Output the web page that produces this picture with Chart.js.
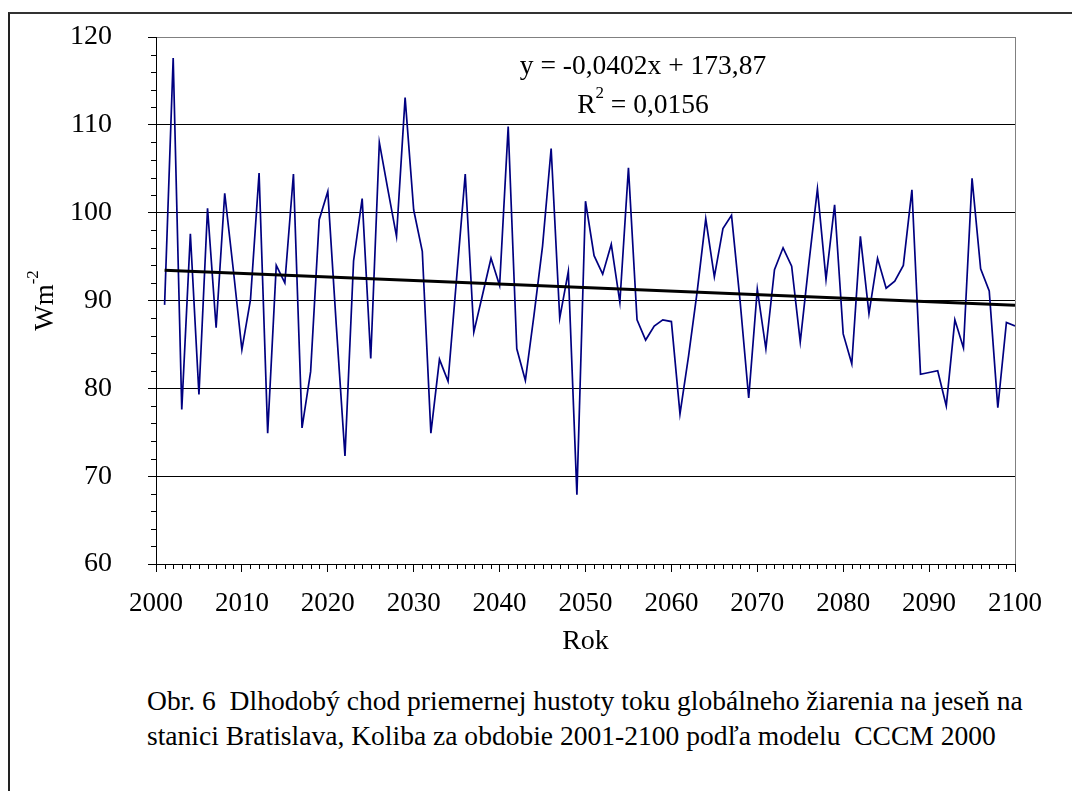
<!DOCTYPE html>
<html>
<head>
<meta charset="utf-8">
<script src="https://cdn.jsdelivr.net/npm/chart.js@4.4.1/dist/chart.umd.min.js"></script>
<style>
  html, body { margin: 0; padding: 0; background: #fff; }
  body { width: 1072px; height: 791px; position: relative; overflow: hidden; }
  #frame {
    position: absolute; left: 8px; top: 12px; width: 1100px; height: 820px;
    border-left: 2px solid #222; border-top: 2px solid #333;
  }
  #chart { position: absolute; left: 0; top: 0; }
  #caption {
    position: absolute; left: 147px; top: 684px;
    font-family: "Liberation Serif", "Times New Roman", serif;
    font-size: 27px; line-height: 35px; color: #000; white-space: nowrap;
    transform: scaleX(1.02); transform-origin: 0 0;
  }
</style>
</head>
<body>
<div id="frame"></div>
<canvas id="chart" width="1072" height="660"></canvas>
<div id="caption">Obr. 6&nbsp; Dlhodobý chod priemernej hustoty toku globálneho žiarenia na jeseň na<br>stanici Bratislava, Koliba za obdobie 2001-2100 podľa modelu&nbsp; CCCM 2000</div>
<script>
// years of the model run
const years = [
  2001, 2002, 2003, 2004, 2005, 2006, 2007, 2008, 2009, 2010,
  2011, 2012, 2013, 2014, 2015, 2016, 2017, 2018, 2019, 2020,
  2021, 2022, 2023, 2024, 2025, 2026, 2027, 2028, 2029, 2030,
  2031, 2032, 2033, 2034, 2035, 2036, 2037, 2038, 2039, 2040,
  2041, 2042, 2043, 2044, 2045, 2046, 2047, 2048, 2049, 2050,
  2051, 2052, 2053, 2054, 2055, 2056, 2057, 2058, 2059, 2060,
  2061, 2062, 2063, 2064, 2065, 2066, 2067, 2068, 2069, 2070,
  2071, 2072, 2073, 2074, 2075, 2076, 2077, 2078, 2079, 2080,
  2081, 2082, 2083, 2084, 2085, 2086, 2087, 2088, 2089, 2090,
  2091, 2092, 2093, 2094, 2095, 2096, 2097, 2098, 2099, 2100
];

// autumn mean global radiation flux density [W/m2]
const radiation = [
  89.5, 117.6, 77.6, 97.6, 79.3, 100.5, 86.9, 102.2, 93.5, 84.4,
  90.1, 104.5, 74.9, 94.0, 92.0, 104.4, 75.5, 81.9, 99.2, 102.4,
  87.0, 72.3, 94.5, 101.6, 83.4, 108.0, 102.6, 97.3, 113.1, 100.3,
  95.6, 74.9, 83.3, 80.8, 92.6, 104.4, 86.4, 90.6, 94.8, 91.7,
  109.8, 84.5, 80.9, 88.3, 96.2, 107.3, 88.0, 93.3, 67.9, 101.3,
  95.1, 93.0, 96.4, 89.8, 105.1, 87.8, 85.5, 87.1, 87.8, 87.6,
  77.1, 83.7, 91.0, 99.3, 92.7, 98.2, 99.7, 89.9, 78.9, 91.3,
  84.5, 93.5, 96.0, 93.9, 85.3, 94.2, 102.7, 92.4, 100.9, 86.2,
  82.8, 97.3, 88.5, 94.8, 91.4, 92.2, 94.0, 102.6, 81.6, 81.8,
  82.0, 78.0, 87.8, 84.6, 103.9, 93.6, 91.1, 77.8, 87.5, 87.1
];

// linear trend end points (y = -0,0402x + 173,87)
const trendYears = [2001, 2100];
const trendValues = [93.43, 89.45];

const equationText = "y = -0,0402x + 173,87";
const r2Value = " = 0,0156";
const yTitle = "Wm";
const ySup = "-2";
const xTitle = "Rok";

const serif = "'Liberation Serif', 'Times New Roman', serif";

// minor tick marks, grey plot border, equation and y title
const decorations = {
  id: "decorations",
  afterDraw(chart) {
    const ctx = chart.ctx;
    const xs = chart.scales.x;
    const ys = chart.scales.y;
    const area = chart.chartArea;
    ctx.save();

    // minor ticks
    ctx.strokeStyle = "#000";
    ctx.lineWidth = 1;
    ctx.beginPath();
    for (let v = 62; v < 120; v += 2) {
      if (v % 10 === 0) continue;
      const py = Math.round(ys.getPixelForValue(v)) + 0.5;
      ctx.moveTo(area.left - 5, py);
      ctx.lineTo(area.left, py);
    }
    for (let v = 2001; v < 2100; v++) {
      if (v % 10 === 0) continue;
      const px = Math.round(xs.getPixelForValue(v)) + 0.5;
      ctx.moveTo(px, area.bottom);
      ctx.lineTo(px, area.bottom + 5);
    }
    ctx.stroke();

    // right border of plot area
    ctx.strokeStyle = "#808080";
    ctx.beginPath();
    const rx = Math.round(area.right) + 0.5;
    ctx.moveTo(rx, area.top);
    ctx.lineTo(rx, area.bottom);
    ctx.stroke();

    // trend equation
    ctx.fillStyle = "#000";
    ctx.textBaseline = "middle";
    ctx.textAlign = "center";
    ctx.font = "27.5px " + serif;
    ctx.fillText(equationText, 643, 67);

    ctx.textAlign = "left";
    const rW = ctx.measureText("R").width;
    ctx.font = "17px " + serif;
    const supW = ctx.measureText("2").width;
    ctx.font = "27.5px " + serif;
    const restW = ctx.measureText(r2Value).width;
    let x0 = 643 - (rW + supW + restW) / 2;
    ctx.fillText("R", x0, 106);
    ctx.font = "17px " + serif;
    ctx.fillText("2", x0 + rW, 94);
    ctx.font = "27.5px " + serif;
    ctx.fillText(r2Value, x0 + rW + supW, 106);

    // y axis title, rotated
    ctx.translate(46, (area.top + area.bottom) / 2);
    ctx.rotate(-Math.PI / 2);
    ctx.font = "27px " + serif;
    const wW = ctx.measureText(yTitle).width;
    ctx.font = "17px " + serif;
    const sW = ctx.measureText(ySup).width;
    const start = -(wW + sW) / 2;
    ctx.font = "27px " + serif;
    ctx.fillText(yTitle, start, 0);
    ctx.font = "17px " + serif;
    ctx.fillText(ySup, start + wW, -12);

    ctx.restore();
  }
};

const ctx = document.getElementById("chart").getContext("2d");
new Chart(ctx, {
  type: "line",
  data: {
    datasets: [
      {
        label: "Radiation",
        data: years.map((yr, i) => ({ x: yr, y: radiation[i] })),
        borderColor: "#000080",
        borderWidth: 1.7,
        pointRadius: 0,
        tension: 0,
        order: 2,
      },
      {
        label: "Trend",
        data: trendYears.map((yr, i) => ({ x: yr, y: trendValues[i] })),
        borderColor: "#000",
        borderWidth: 3,
        pointRadius: 0,
        order: 1,
      },
    ],
  },
  options: {
    responsive: false,
    animation: false,
    devicePixelRatio: 1,
    layout: { padding: { left: 0, top: 37, right: 57, bottom: 0 } },
    plugins: {
      legend: { display: false },
      tooltip: { enabled: false },
    },
    scales: {
      x: {
        type: "linear",
        min: 2000,
        max: 2100,
        afterFit: (scale) => {
          scale.height = 96;
          scale.paddingLeft = 0;
          scale.paddingRight = 0;
        },
        ticks: {
          stepSize: 10,
          autoSkip: false,
          maxRotation: 0,
          padding: 16,
          color: "#000",
          font: { family: serif, size: 27 },
          callback: (v) => String(v),
        },
        grid: { drawOnChartArea: false, tickLength: 8, tickColor: "#000" },
        border: { color: "#000", width: 1 },
        title: {
          display: true,
          text: xTitle,
          color: "#000",
          font: { family: serif, size: 28 },
          padding: { top: 0, bottom: 2 },
        },
      },
      y: {
        min: 60,
        max: 120,
        afterFit: (scale) => {
          scale.width = 156;
          scale.paddingTop = 0;
          scale.paddingBottom = 0;
        },
        ticks: {
          stepSize: 10,
          padding: 36,
          color: "#000",
          font: { family: serif, size: 28 },
        },
        grid: {
          color: (c) => (c.tick && c.tick.value === 120 ? "#808080" : "#000"),
          tickLength: 8,
          tickColor: "#000",
          lineWidth: 1,
        },
        border: { color: "#000", width: 1 },
      },
    },
  },
  plugins: [decorations],
});
</script>
</body>
</html>
